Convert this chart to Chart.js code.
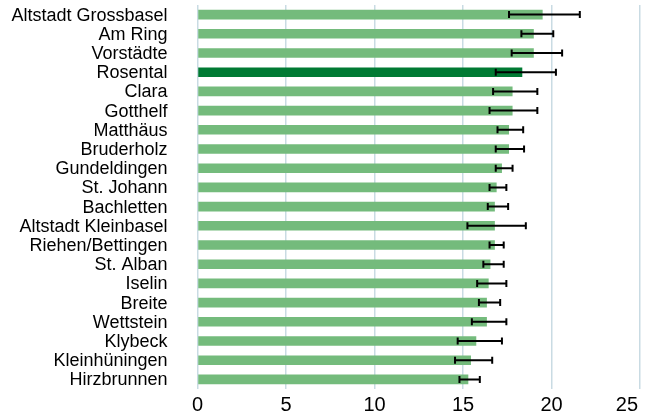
<!DOCTYPE html>
<html>
<head>
<meta charset="utf-8">
<script src="https://cdn.jsdelivr.net/npm/chart.js"></script>
<style>
  html, body { margin: 0; padding: 0; background: #fff; }
  #wrap { width: 646px; height: 412px; }
</style>
</head>
<body>
<div id="wrap"><canvas id="barChart"></canvas></div>
<script>
const labels = ['Altstadt Grossbasel', 'Am Ring', 'Vorstädte', 'Rosental', 'Clara', 'Gotthelf',
  'Matthäus', 'Bruderholz', 'Gundeldingen', 'St. Johann', 'Bachletten', 'Altstadt Kleinbasel',
  'Riehen/Bettingen', 'St. Alban', 'Iselin', 'Breite', 'Wettstein', 'Klybeck', 'Kleinhüningen', 'Hirzbrunnen'];
const values = [19.5, 19.0, 19.0, 18.35, 17.8, 17.8, 17.6, 17.6, 17.2, 16.9, 16.8, 16.8,
  16.8, 16.55, 16.45, 16.35, 16.35, 15.75, 15.45, 15.3];
const errLow = [17.6, 18.3, 17.75, 16.85, 16.7, 16.5, 16.95, 16.85, 16.85, 16.5, 16.4, 15.25,
  16.5, 16.15, 15.8, 15.9, 15.5, 14.7, 14.55, 14.8];
const errHigh = [21.6, 20.1, 20.6, 20.25, 19.2, 19.2, 18.4, 18.45, 17.8, 17.45, 17.55, 18.55,
  17.3, 17.3, 17.45, 17.1, 17.45, 17.2, 16.65, 15.95];
const xTicks = [0, 5, 10, 15, 20, 25];
const highlight = 'Rosental';

// error bars drawn with the chart's own scales
const errorBars = {
  id: 'errorBars',
  afterDatasetsDraw(chart) {
    const ctx = chart.ctx;
    const x = chart.scales.x;
    const meta = chart.getDatasetMeta(0);
    ctx.save();
    ctx.strokeStyle = '#000';
    ctx.lineWidth = 2;
    meta.data.forEach((bar, i) => {
      const y = bar.y;
      const x1 = x.getPixelForValue(errLow[i]);
      const x2 = x.getPixelForValue(errHigh[i]);
      ctx.beginPath();
      ctx.moveTo(x1, y); ctx.lineTo(x2, y);
      ctx.moveTo(x1, y - 3.5); ctx.lineTo(x1, y + 3.5);
      ctx.moveTo(x2, y - 3.5); ctx.lineTo(x2, y + 3.5);
      ctx.stroke();
    });
    ctx.restore();
  }
};

// x tick labels, the last one pulled in so it stays on the canvas
const xLabels = {
  id: 'xLabels',
  afterDraw(chart) {
    const ctx = chart.ctx;
    const x = chart.scales.x;
    ctx.save();
    ctx.font = '20px "Liberation Sans", Arial';
    ctx.fillStyle = '#000';
    ctx.textBaseline = 'alphabetic';
    xTicks.forEach(v => {
      const t = String(v);
      const w = ctx.measureText(t).width;
      let px = x.getPixelForValue(v) - w / 2;
      px = Math.min(px, chart.width - 8 - w);
      ctx.fillText(t, px, 411);
    });
    ctx.restore();
  }
};

new Chart(document.getElementById('barChart'), {
  type: 'bar',
  data: {
    labels: labels,
    datasets: [{
      data: values,
      backgroundColor: labels.map(l => l === highlight ? '#007a33' : '#74bb7c'),
      barPercentage: 0.5,
      categoryPercentage: 1
    }]
  },
  options: {
    indexAxis: 'y',
    responsive: true,
    maintainAspectRatio: false,
    animation: false,
    layout: { autoPadding: false, padding: { top: 5, right: 6, left: 0, bottom: 0 } },
    plugins: { legend: { display: false }, tooltip: { enabled: false } },
    scales: {
      x: {
        min: 0, max: 25,
        afterBuildTicks: s => { s.ticks = xTicks.map(v => ({ value: v })); },
        grid: { color: '#c9dbe3', lineWidth: 1.5, drawTicks: false },
        border: { display: false },
        ticks: { display: false },
        afterFit: s => { s.height = 23; s.paddingLeft = 0; s.paddingRight = 0; }
      },
      y: {
        grid: { display: false, drawTicks: false },
        border: { display: false },
        ticks: { color: '#000', padding: 30, autoSkip: false, labelOffset: 1, font: { family: 'Liberation Sans, Arial', size: 18 } },
        afterFit: s => { s.width = 197.5; s.paddingTop = 0; s.paddingBottom = 0; }
      }
    }
  },
  plugins: [errorBars, xLabels]
});
</script>
</body>
</html>
